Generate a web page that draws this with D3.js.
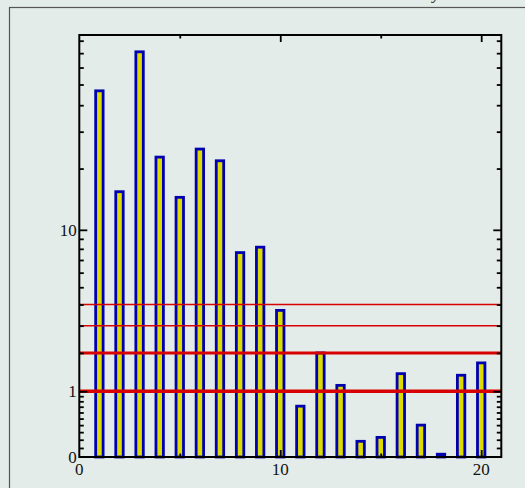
<!DOCTYPE html>
<html>
<head>
<meta charset="utf-8">
<script src="https://cdn.jsdelivr.net/npm/d3@7/dist/d3.min.js"></script>
<style>
  html, body { margin: 0; padding: 0; background: #e4ece9; }
  svg { display: block; }
</style>
</head>
<body>
<script>
// ---- data ----
const categories = [1,2,3,4,5,6,7,8,9,10,11,12,13,14,15,16,17,18,19,20];
const values = [46.7,15.45,71.0,22.7,14.5,24.8,21.8,7.65,8.16,3.7,0.71,2.0,1.13,0.18,0.23,1.41,0.40,0.03,1.37,1.70];
const refLines = [1,2,3,4];
const refWidths = [3.5,3,1.5,1.5];
const xMajorTicks = [0,10,20];
const xMinorTicks = [5,15];
const yMajorTicks = [0,1,10];
const yMinorTicks = [0.1,0.2,0.3,0.4,0.5,0.6,0.7,0.8,0.9,2,3,4,5,6,7,8,9,20,30,40,50,60,70,80];

const W = 525, H = 488;
const L = 79.3, R = 501.3, T = 35, B = 457;

const svg = d3.select("body").append("svg").attr("width", W).attr("height", H);

// outer frame
svg.append("rect").attr("x", 9.5).attr("y", 7.5).attr("width", 700).attr("height", 700)
  .attr("fill", "#e4ece9").attr("stroke", "#555").attr("stroke-width", 1.2);

// clipped title fragment
svg.append("text").attr("x", 440).attr("y", -1).attr("text-anchor", "end")
  .attr("font-family", "Liberation Serif").attr("font-style", "italic").attr("font-size", 17)
  .attr("fill", "#222").text("y");

const x = d3.scaleLinear().domain([0, 21]).range([L, R]);
const y = d3.scaleSymlog().constant(1).domain([0, 85]).range([B, T]);

const bw = x(0.37) - x(0);

// bars
svg.append("g").selectAll("rect").data(categories).join("rect")
  .attr("x", (d) => x(d) - bw / 2)
  .attr("y", (d, i) => y(values[i]))
  .attr("width", bw)
  .attr("height", (d, i) => y(0) - y(values[i]))
  .attr("fill", "#dcdc00")
  .attr("stroke", "#0000b0")
  .attr("stroke-width", 2.8);

// red reference lines
svg.append("g").selectAll("line").data(refLines).join("line")
  .attr("x1", L).attr("x2", R)
  .attr("y1", (d) => y(d)).attr("y2", (d) => y(d))
  .attr("stroke", "#d80000")
  .attr("stroke-width", (d, i) => refWidths[i]);

// axes (ticks inward)
const axisStyle = (g) => {
  g.select(".domain").remove();
  g.selectAll(".tick line").attr("stroke", "#000").attr("stroke-width", 1.8);
  g.selectAll("text").remove();
};
// left
svg.append("g").attr("transform", `translate(${L},0)`)
  .call(d3.axisRight(y).tickValues(yMajorTicks.filter(d => d > 0)).tickSize(8)).call(axisStyle);
svg.append("g").attr("transform", `translate(${L},0)`)
  .call(d3.axisRight(y).tickValues(yMinorTicks).tickSize(4.5)).call(axisStyle);
// right
svg.append("g").attr("transform", `translate(${R},0)`)
  .call(d3.axisLeft(y).tickValues(yMajorTicks.filter(d => d > 0)).tickSize(8)).call(axisStyle);
svg.append("g").attr("transform", `translate(${R},0)`)
  .call(d3.axisLeft(y).tickValues(yMinorTicks).tickSize(4.5)).call(axisStyle);
// bottom
svg.append("g").attr("transform", `translate(0,${B})`)
  .call(d3.axisTop(x).tickValues(xMajorTicks.filter(d => d > 0)).tickSize(7)).call(axisStyle);
svg.append("g").attr("transform", `translate(0,${B})`)
  .call(d3.axisTop(x).tickValues(xMinorTicks).tickSize(3.5)).call(axisStyle);
// top
svg.append("g").attr("transform", `translate(0,${T})`)
  .call(d3.axisBottom(x).tickValues(xMajorTicks.filter(d => d > 0)).tickSize(7)).call(axisStyle);
svg.append("g").attr("transform", `translate(0,${T})`)
  .call(d3.axisBottom(x).tickValues(xMinorTicks).tickSize(3.5)).call(axisStyle);

// plot frame
svg.append("rect").attr("x", L).attr("y", T).attr("width", R - L).attr("height", B - T)
  .attr("fill", "none").attr("stroke", "#000").attr("stroke-width", 2);

// tick labels
const font = "Liberation Serif";
svg.append("g").selectAll("text").data(yMajorTicks).join("text")
  .attr("x", L - 2.5).attr("y", (d) => y(d) + 6)
  .attr("text-anchor", "end").attr("font-family", font).attr("font-size", 17).attr("fill", "#111")
  .text((d) => d);
svg.append("g").selectAll("text").data(xMajorTicks).join("text")
  .attr("x", (d) => x(d)).attr("y", B + 18)
  .attr("text-anchor", "middle").attr("font-family", font).attr("font-size", 17).attr("fill", "#111")
  .text((d) => d);
</script>
</body>
</html>
